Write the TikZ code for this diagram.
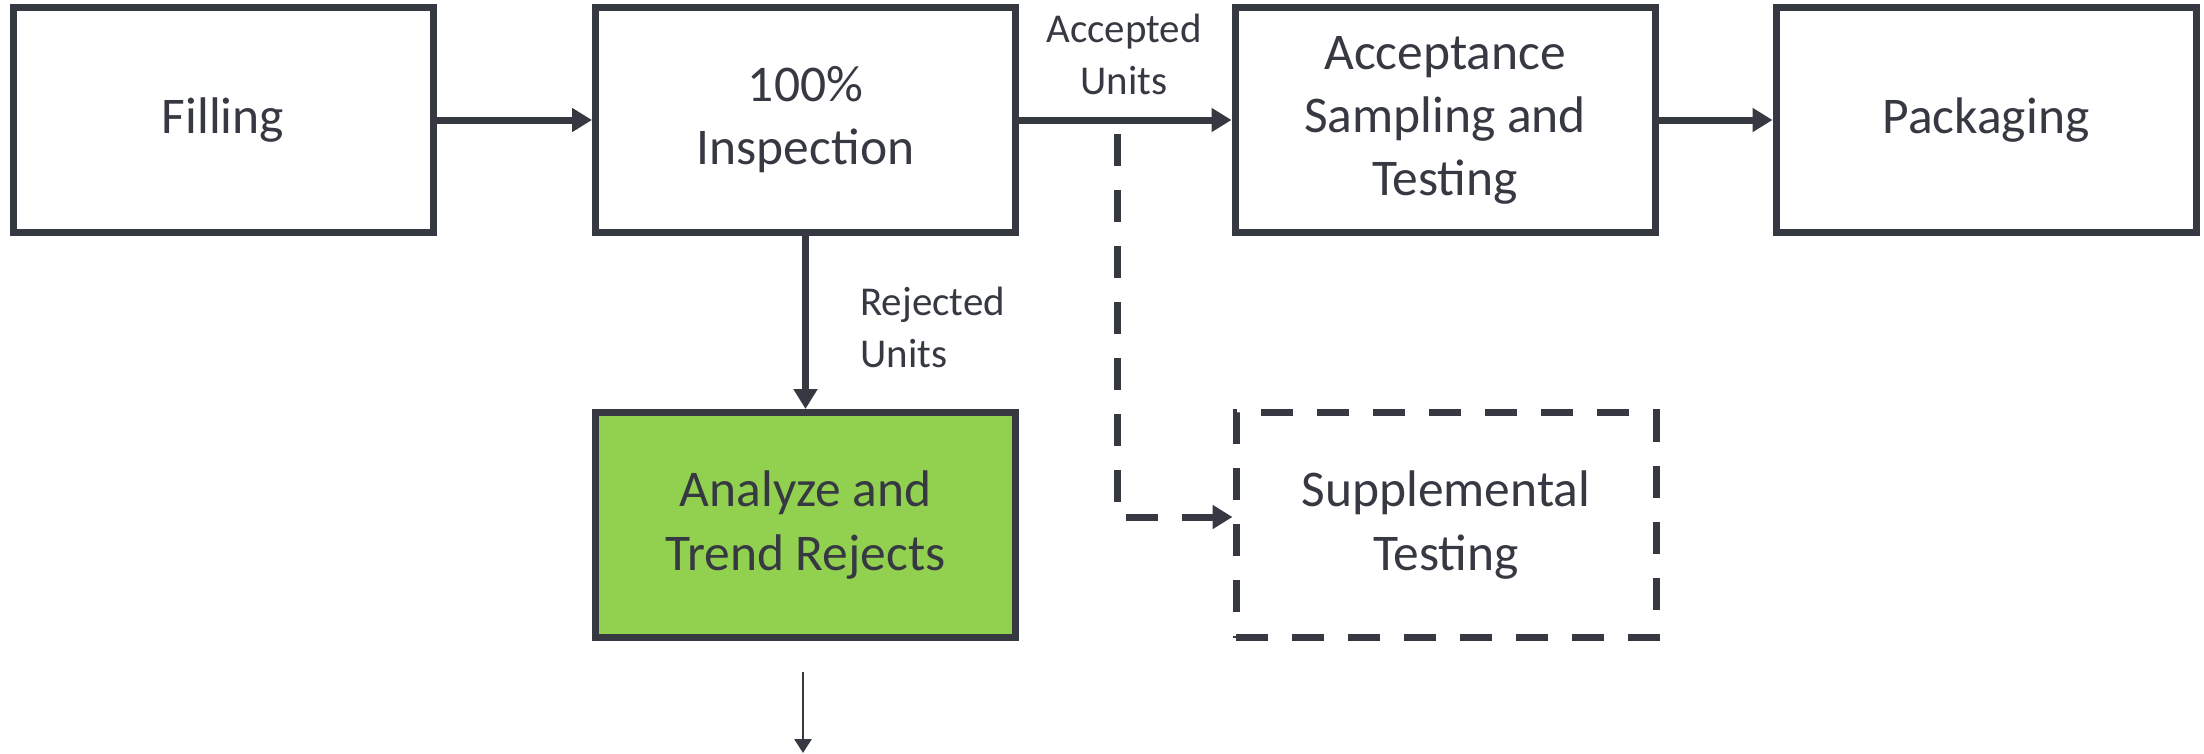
\documentclass[tikz,border=0pt]{standalone}
\usepackage{fontspec}
\setmainfont{Carlito}
\usepackage{xcolor}
\usetikzlibrary{arrows.meta,positioning}
\definecolor{flowgray}{RGB}{54,57,66}
\definecolor{rejectgreen}{RGB}{146,208,80}

\begin{document}
\begin{tikzpicture}[
    stagebox/.style={draw=flowgray, line width=0.14cm, minimum width=8.4cm, minimum height=4.5cm,
        align=center, text=flowgray, inner sep=0pt, font=\fontsize{29.3}{35.9}\selectfont},
    dashbox/.style={stagebox, dash pattern=on 0.64cm off 0.48cm},
    flow/.style={draw=flowgray, line width=0.14cm, -{Triangle[length=0.4cm,width=0.46cm]}},
    flowdash/.style={flow, dash pattern=on 0.64cm off 0.48cm},
    outflow/.style={draw=flowgray, line width=0.054cm, -{Triangle[length=0.28cm,width=0.34cm]}},
    lbl/.style={text=flowgray, inner sep=0pt, font=\fontsize{23.3}{29.6}\selectfont}
]
    \useasboundingbox (0,0) rectangle (44.08,-15.06);

    % Top row
    \node[stagebox] (filling) at (4.46,-2.4) {Filling};
    \node[stagebox] (inspect) at (16.11,-2.4) {100\%\\Inspection};
    \node[stagebox] (accept) at (28.9,-2.4) {Acceptance\\Sampling and\\Testing};
    \node[stagebox] (pack) at (39.72,-2.4) {Packaging};

    % Bottom row
    \node[stagebox, fill=rejectgreen] (trend) at (16.11,-10.5) {Analyze and\\Trend Rejects};
    \node[dashbox] (supp) at (28.92,-10.5) {Supplemental\\Testing};

    % Main flow
    \draw[flow] (filling) -- (inspect);
    \draw[flow] (inspect) -- (accept);
    \draw[flow] (accept) -- (pack);
    \draw[flow] (inspect) -- (trend);

    % Branch to supplemental testing
    \coordinate (split) at (22.34,-2.4);
    \draw[flowdash, dash phase=0.84cm] (split) |- ([yshift=0.16cm]supp.west);

    % Outgoing arrow
    \coordinate (out top) at (16.06,-13.44);
    \coordinate (out end) at (16.06,-15.06);
    \draw[outflow] (out top) -- (out end);

    % Labels
    \node[lbl, align=center] (acclbl) at (22.48,-1.08) {Accepted\\Units};
    \node[lbl, align=left, anchor=west] (rejlbl) at (17.2,-6.54) {Rejected\\Units};
\end{tikzpicture}
\end{document}
